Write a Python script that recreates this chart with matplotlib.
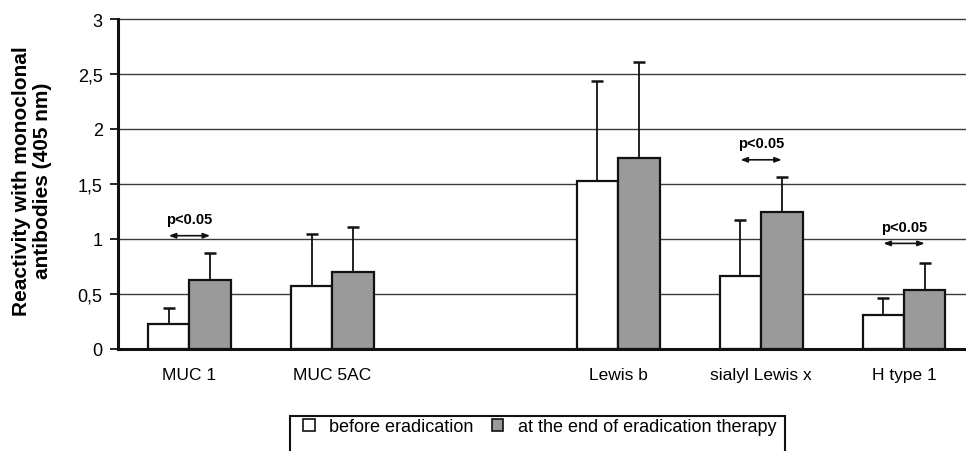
import numpy as np
import matplotlib
matplotlib.use('Agg')
import matplotlib.pyplot as plt
from matplotlib.patches import Patch, Rectangle

plt.rcParams['font.family'] = ['Liberation Sans', 'DejaVu Sans']

# categories (slot 2 is an empty gap in the original chart)
categorias = ['MUC 1', 'MUC 5AC', 'Lewis b', 'sialyl Lewis x', 'H type 1']
posiciones = [0, 1, 3, 4, 5]

antes = [0.23, 0.57, 1.53, 0.66, 0.31]
antes_sup = [0.37, 1.05, 2.44, 1.17, 0.46]      # top of error bar
despues = [0.63, 0.70, 1.74, 1.25, 0.54]
despues_sup = [0.87, 1.11, 2.61, 1.56, 0.78]

# significance marks: (slot, arrow height, text height)
signif_pos = [0, 4, 5]
signif_flecha = [1.03, 1.72, 0.96]
signif_texto = [1.18, 1.87, 1.11]

yticks = [0, 0.5, 1, 1.5, 2, 2.5, 3]
yticklabels = ['0', '0,5', '1', '1,5', '2', '2,5', '3']

pos = np.array(posiciones, dtype=float)
ancho = 0.29
gris = '#9a9a9a'

fig = plt.figure(figsize=(9.66, 4.52), dpi=100)
ax = fig.add_axes([118/966, 102/452, 848/966, 330/452])

# horizontal grid lines
for yv in yticks[1:]:
    ax.axhline(yv, color='#3a3a3a', lw=1.0, zorder=1, clip_on=False)

err_a = [np.zeros(len(antes)), np.array(antes_sup) - np.array(antes)]
err_d = [np.zeros(len(despues)), np.array(despues_sup) - np.array(despues)]

ax.bar(pos - ancho/2, antes, ancho, color='white', edgecolor='#111111', lw=1.6, zorder=3)
ax.bar(pos + ancho/2, despues, ancho, color=gris, edgecolor='#111111', lw=1.6, zorder=3)
ax.errorbar(pos - ancho/2, antes, yerr=err_a, fmt='none', ecolor='#111111',
            elinewidth=1.3, capsize=4.5, capthick=1.8, zorder=2)
ax.errorbar(pos + ancho/2, despues, yerr=err_d, fmt='none', ecolor='#111111',
            elinewidth=1.3, capsize=4.5, capthick=1.8, zorder=2)

for p, yf, yt in zip(signif_pos, signif_flecha, signif_texto):
    ax.annotate('', xy=(p - 0.145, yf), xytext=(p + 0.145, yf),
                arrowprops=dict(arrowstyle='<|-|>,head_length=0.4,head_width=0.15',
                                color='#111111', lw=1.2, shrinkA=0, shrinkB=0),
                zorder=4)
    ax.text(p, yt, 'p<0.05', ha='center', va='center', fontsize=10.5,
            fontweight='bold', zorder=4)

ax.set_xlim(-0.5, (966 - 189) / 143)
ax.set_ylim(0, 3)
ax.set_yticks(yticks)
ax.set_yticklabels(yticklabels, fontsize=13)
ax.set_xticks(pos)
ax.set_xticklabels(categorias, fontsize=12.5)
ax.tick_params(axis='x', length=0, pad=13)
ax.tick_params(axis='y', direction='out', length=6, width=1.2, pad=5)

for lado in ['top', 'right']:
    ax.spines[lado].set_visible(False)
for lado in ['left', 'bottom']:
    ax.spines[lado].set_linewidth(2.2)
    ax.spines[lado].set_color('#111111')
    ax.spines[lado].set_zorder(5)

fig.text(32/966, 1 - 181/452, 'Reactivity with monoclonal\nantibodies (405 nm)',
         rotation=90, ha='center', va='center', fontsize=15, fontweight='bold',
         multialignment='center', linespacing=1.1)

# legend: the box runs off the bottom of the picture
handles = [Patch(facecolor='white', edgecolor='#111111', lw=1.2),
           Patch(facecolor=gris, edgecolor='#111111', lw=1.2)]
leg = fig.legend(handles, ['before eradication', 'at the end of eradication therapy'],
                 loc='center left', bbox_to_anchor=(303/966, 1 - 428/452), ncol=2,
                 fontsize=13, frameon=False, handlelength=0.65,
                 handleheight=0.65, handletextpad=0.8, columnspacing=1.0,
                 borderpad=0, borderaxespad=0)
fig.add_artist(Rectangle((290/966, -0.05), (785 - 290)/966, 0.05 + 35/452,
                         transform=fig.transFigure, fill=False,
                         edgecolor='#111111', lw=1.5))

fig.savefig('out.png', dpi=100)
